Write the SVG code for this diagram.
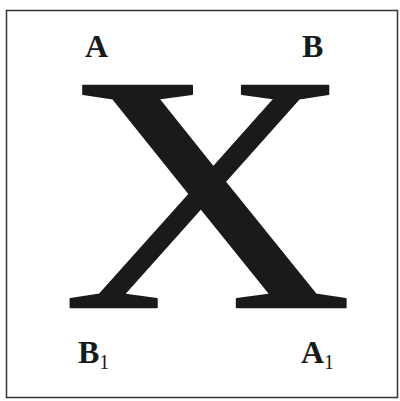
<svg xmlns="http://www.w3.org/2000/svg" width="400" height="401" viewBox="0 0 400 401">
<style>
.lbl{font-family:'Liberation Serif',serif;font-weight:bold;font-size:32px;fill:#1a1a1a}
.sub{font-size:20px;font-weight:normal}
.big{font-family:'Liberation Serif',serif;font-weight:normal;font-size:339px;fill:#1a1a1a;stroke:#1a1a1a;stroke-width:1.6;stroke-linejoin:round}
</style>
<rect x="6.5" y="10.5" width="391" height="387" fill="#fff" stroke="#333" stroke-width="1.5"/>
<g id="X"><text class="big" x="207.6" y="307.5" text-anchor="middle" transform="translate(209 0) scale(1.19 1) translate(-209 0)">X</text></g>
<g id="A"><text class="lbl" x="85" y="57">A</text></g>
<g id="B"><text class="lbl" x="302" y="57">B</text></g>
<g id="B1"><text class="lbl" x="78" y="363">B<tspan class="sub" dy="6">1</tspan></text></g>
<g id="A1"><text class="lbl" x="301" y="363">A<tspan class="sub" dy="6">1</tspan></text></g>
<g id="connectors"/>
</svg>
